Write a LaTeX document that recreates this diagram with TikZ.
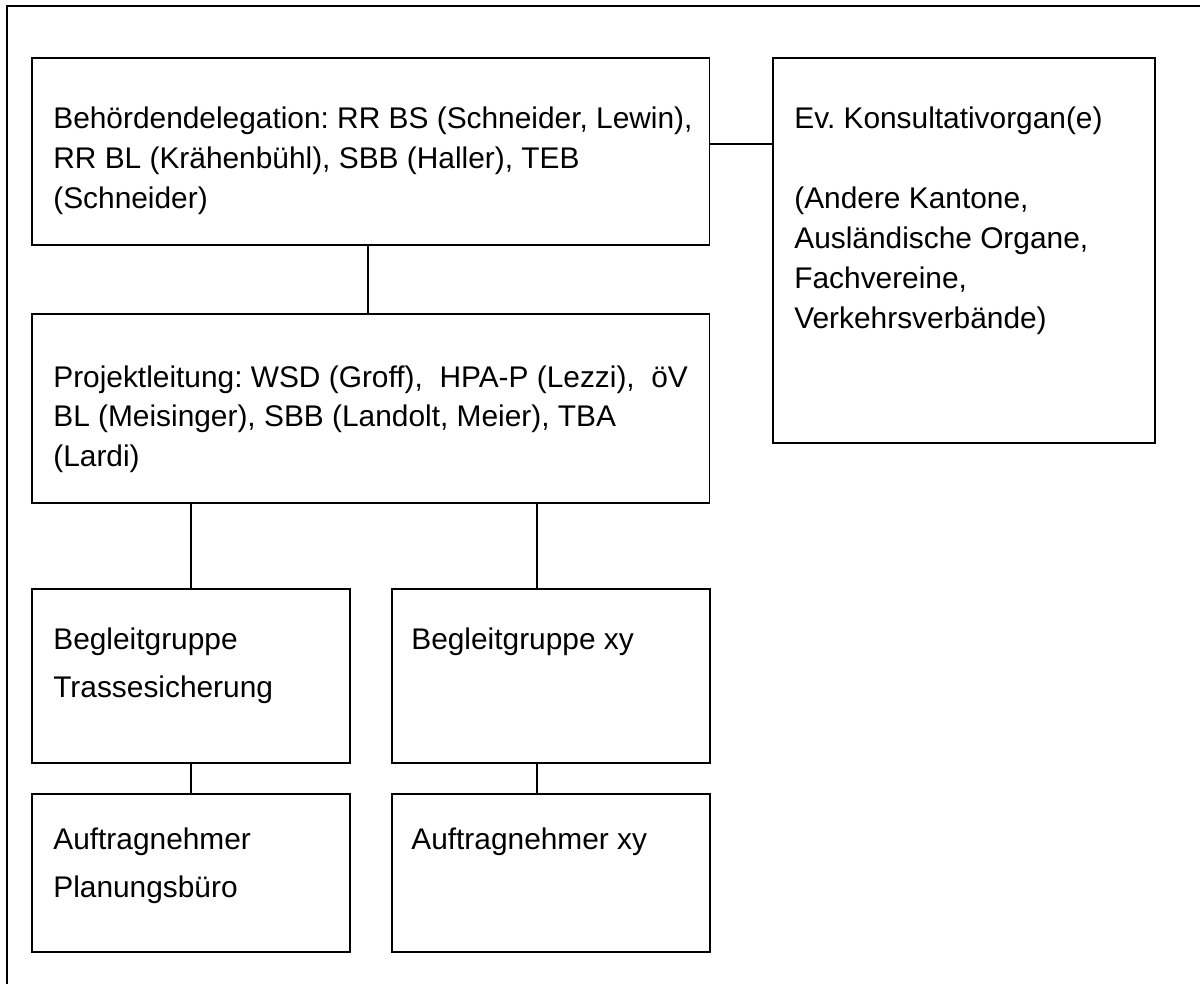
\documentclass[tikz,border=0pt]{standalone}
\usepackage{fontspec}
\setmainfont{Liberation Sans}
\usetikzlibrary{positioning}
\frenchspacing

\begin{document}
\begin{tikzpicture}[
  x=0.02cm, y=-0.02cm,
  box/.style={draw, line width=0.9pt, inner sep=0pt, anchor=north west},
  wide/.style={box, minimum width=13.56cm},
  small/.style={box, minimum width=6.36cm},
  txt/.style={anchor=north west, inner sep=0pt, align=left, font=\fontsize{17}{22.7}\selectfont},
  txtloose/.style={txt, font=\fontsize{17}{27.8}\selectfont},
  link/.style={line width=0.9pt}
]
\useasboundingbox (0,0) rectangle (1200,984);
% --- Rahmen ---
\draw[link] (7,984) -- (7,6) -- (1200,6);
% --- obere Ebene ---
\node[wide, minimum height=3.74cm] (bd) at (31,57) {};
\node[txt] (bdtext) at (53,107) {Behördendelegation: RR BS (Schneider, Lewin),\\RR BL (Krähenbühl), SBB (Haller), TEB\\(Schneider)};
\node[box, minimum width=7.64cm, minimum height=7.70cm] (konsult) at (772,57) {};
\node[txt] (konsulttext) at (794,107) {Ev. Konsultativorgan(e)\\[22.7pt](Andere Kantone,\\Ausländische Organe,\\Fachvereine,\\Verkehrsverbände)};
\node[wide, minimum height=3.78cm] (pl) at (31,313) {};
\node[txt] (pltext) at (53,365) {Projektleitung: WSD (Groff), \ HPA-P (Lezzi), \ öV\\BL (Meisinger), SBB (Landolt, Meier), TBA\\(Lardi)};
% --- Begleitgruppen ---
\node[small, minimum height=3.48cm] (bgtrasse) at (31,588) {};
\node[txtloose] (bgtrassetext) at (53,627) {Begleitgruppe\\Trassesicherung};
\node[small, minimum height=3.48cm] (bgxy) at (391,588) {};
\node[txtloose] (bgxytext) at (411,627) {Begleitgruppe xy};
% --- Auftragnehmer ---
\node[small, minimum height=3.16cm] (aupl) at (31,793) {};
\node[txtloose] (aupltext) at (53,827) {Auftragnehmer\\Planungsbüro};
\node[small, minimum height=3.16cm] (auxy) at (391,793) {};
\node[txtloose] (auxytext) at (411,827) {Auftragnehmer xy};
% --- Linien ---
\draw[link] ([yshift=0.15cm]bd.east) -- ([yshift=0.15cm]bd.east -| konsult.west);
\draw[link] ([xshift=-0.06cm]bd.south) -- ([xshift=-0.06cm]pl.north);
\draw[link] (pl.south -| bgtrasse.north) -- (bgtrasse.north);
\draw[link] ([xshift=-0.28cm]bgxy.north |- pl.south) -- ([xshift=-0.28cm]bgxy.north);
\draw[link] (bgtrasse.south) -- (aupl.north);
\draw[link] ([xshift=-0.28cm]bgxy.south) -- ([xshift=-0.28cm]auxy.north);
\end{tikzpicture}
\end{document}
